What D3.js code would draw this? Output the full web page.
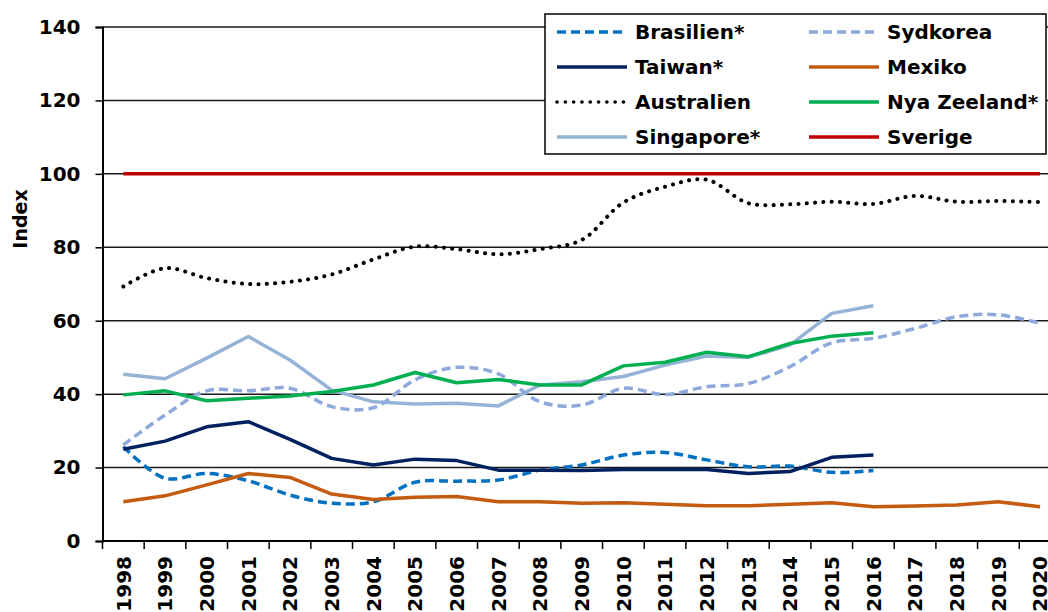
<!DOCTYPE html>
<html>
<head>
<meta charset="utf-8">
<title>Index</title>
<script src="https://cdn.jsdelivr.net/npm/d3@7"></script>
<style>
  body { margin: 0; background: #fff; }
  text { font-family: "DejaVu Sans", Verdana, sans-serif; font-weight: bold; fill: #000; }
</style>
</head>
<body>
<script>
// years on the x axis
var years = d3.range(1998, 2021).map(String);

// series values (null = no data)
var brasilien  = [25.7, 17.1, 18.4, 16.4, 12.5, 10.3, 10.7, 16.0, 16.3, 16.6, 19.3, 20.7, 23.4, 24.1, 22.1, 20.2, 20.4, 18.7, 19.2];
var sydkorea   = [26.2, 34.3, 40.9, 40.9, 41.6, 36.6, 36.3, 43.9, 47.3, 45.5, 37.9, 37.0, 41.6, 39.9, 42.0, 42.9, 47.5, 54.0, 55.2, 57.9, 61.1, 61.6, 59.3];
var taiwan     = [25.0, 27.2, 31.1, 32.5, 27.7, 22.5, 20.7, 22.3, 21.9, 19.3, 19.3, 19.2, 19.5, 19.5, 19.5, 18.4, 18.9, 22.8, 23.4];
var mexiko     = [10.7, 12.3, 15.3, 18.4, 17.3, 12.8, 11.3, 11.9, 12.1, 10.7, 10.7, 10.3, 10.4, 10.0, 9.6, 9.6, 10.0, 10.4, 9.3, 9.5, 9.8, 10.7, 9.3];
var australien = [69.3, 74.3, 71.6, 70.0, 70.6, 72.6, 76.7, 80.2, 79.5, 78.1, 79.5, 82.0, 92.2, 96.5, 98.4, 92.0, 91.7, 92.4, 91.8, 94.0, 92.4, 92.6, 92.3];
var nyaZeeland = [39.8, 40.9, 38.2, 38.9, 39.5, 40.7, 42.5, 45.9, 43.1, 44.0, 42.5, 42.5, 47.7, 48.7, 51.4, 50.2, 53.8, 55.8, 56.7];
var singapore  = [45.4, 44.2, 49.8, 55.7, 49.3, 41.1, 37.9, 37.3, 37.5, 36.8, 42.5, 43.4, 44.8, 47.9, 50.4, 50.0, 53.4, 62.0, 64.1];
var sverige    = years.map(function() { return 100; });

var yTicks = [0, 20, 40, 60, 80, 100, 120, 140];

var series = [
  {name: "Brasilien*",  values: brasilien,  color: "#0070C0", dash: "9 5",   smooth: true,  col: 0, row: 0},
  {name: "Taiwan*",     values: taiwan,     color: "#002060", dash: null,    smooth: false, col: 0, row: 1},
  {name: "Australien",  values: australien, color: "#000000", dash: "0.1 8.2", smooth: true, col: 0, row: 2},
  {name: "Singapore*",  values: singapore,  color: "#95B3D7", dash: null,    smooth: false, col: 0, row: 3},
  {name: "Sydkorea",    values: sydkorea,   color: "#8EA9DB", dash: "9 5",   smooth: true,  col: 1, row: 0},
  {name: "Mexiko",      values: mexiko,     color: "#C55A11", dash: null,    smooth: false, col: 1, row: 1},
  {name: "Nya Zeeland*", values: nyaZeeland, color: "#00B050", dash: null,   smooth: false, col: 1, row: 2},
  {name: "Sverige",     values: sverige,    color: "#C00000", dash: null,    smooth: false, col: 1, row: 3}
];

var W = 1048, H = 612;
var plotLeft = 102.5, plotTop = 27, plotBottom = 541;
var step = 41.67;

var svg = d3.select("body").append("svg")
  .attr("width", W)
  .attr("height", H);

var x = d3.scaleBand().domain(years).range([plotLeft, plotLeft + step * years.length]);
var y = d3.scaleLinear().domain([0, 140]).range([plotBottom, plotTop]);

// gridlines
svg.append("g")
  .selectAll("line")
  .data(yTicks.filter(function(d) { return d > 0; }))
  .enter().append("line")
  .attr("x1", plotLeft).attr("x2", W)
  .attr("y1", function(d) { return y(d); })
  .attr("y2", function(d) { return y(d); })
  .attr("stroke", "#1a1a1a")
  .attr("stroke-width", 1.5);

// y axis
var yAxis = svg.append("g")
  .attr("transform", "translate(" + plotLeft + ",0)")
  .call(d3.axisLeft(y).tickValues(yTicks).tickSize(7).tickPadding(15));
yAxis.select(".domain").attr("stroke", "#000").attr("stroke-width", 2);
yAxis.selectAll(".tick line").attr("stroke", "#000").attr("stroke-width", 1.5);
yAxis.selectAll("text")
  .attr("font-size", 20)
  .attr("font-family", "DejaVu Sans")
  .attr("font-weight", "bold")
  .attr("fill", "#000");

// x axis
var xAxis = svg.append("g")
  .attr("transform", "translate(0," + plotBottom + ")")
  .call(d3.axisBottom(x).tickSize(0).tickPadding(0));
xAxis.select(".domain").remove();
xAxis.selectAll("text")
  .attr("font-size", 20)
  .attr("font-family", "DejaVu Sans")
  .attr("font-weight", "bold")
  .attr("fill", "#000")
  .attr("transform", "translate(0,15) rotate(-90)")
  .attr("text-anchor", "end")
  .attr("dy", "0.36em")
  .attr("x", 0).attr("y", 0);

svg.append("line")
  .attr("x1", plotLeft).attr("x2", W)
  .attr("y1", plotBottom).attr("y2", plotBottom)
  .attr("stroke", "#000").attr("stroke-width", 2);
svg.append("g")
  .selectAll("line")
  .data(years)
  .enter().append("line")
  .attr("x1", function(d) { return x(d); })
  .attr("x2", function(d) { return x(d); })
  .attr("y1", plotBottom).attr("y2", plotBottom + 8)
  .attr("stroke", "#000").attr("stroke-width", 1.5);

// y label
svg.append("text")
  .attr("transform", "translate(27,219) rotate(-90)")
  .attr("text-anchor", "middle")
  .attr("font-size", 19)
  .text("Index");

// lines
series.forEach(function(s) {
  var pts = s.values.map(function(v, j) { return [years[j], v]; })
    .filter(function(d) { return d[1] != null; });
  var line = d3.line()
    .x(function(d) { return x(d[0]) + x.bandwidth() / 2; })
    .y(function(d) { return y(d[1]); })
    .curve(s.smooth ? d3.curveCatmullRom.alpha(0.5) : d3.curveLinear);
  svg.append("path")
    .datum(pts)
    .attr("d", line)
    .attr("fill", "none")
    .attr("stroke", s.color)
    .attr("stroke-width", s.name === "Australien" ? 4 : 3.5)
    .attr("stroke-dasharray", s.dash)
    .attr("stroke-linecap", s.name === "Australien" ? "round" : "butt")
    .attr("stroke-linejoin", "round");
});

// legend
var legend = svg.append("g").attr("transform", "translate(545,14)");
legend.append("rect")
  .attr("width", 501).attr("height", 140)
  .attr("fill", "#fff")
  .attr("stroke", "#000").attr("stroke-width", 1.5);
series.forEach(function(s) {
  var gx = s.col === 0 ? 12 : 264;
  var gy = 18 + s.row * 35;
  legend.append("line")
    .attr("x1", gx).attr("x2", gx + 70)
    .attr("y1", gy).attr("y2", gy)
    .attr("stroke", s.color)
    .attr("stroke-width", s.name === "Australien" ? 3.6 : 3.5)
    .attr("stroke-dasharray", s.dash)
    .attr("stroke-linecap", s.name === "Australien" ? "round" : "butt");
  legend.append("text")
    .attr("x", gx + 78).attr("y", gy)
    .attr("dy", "0.36em")
    .attr("font-size", 20)
    .text(s.name);
});
</script>
</body>
</html>
